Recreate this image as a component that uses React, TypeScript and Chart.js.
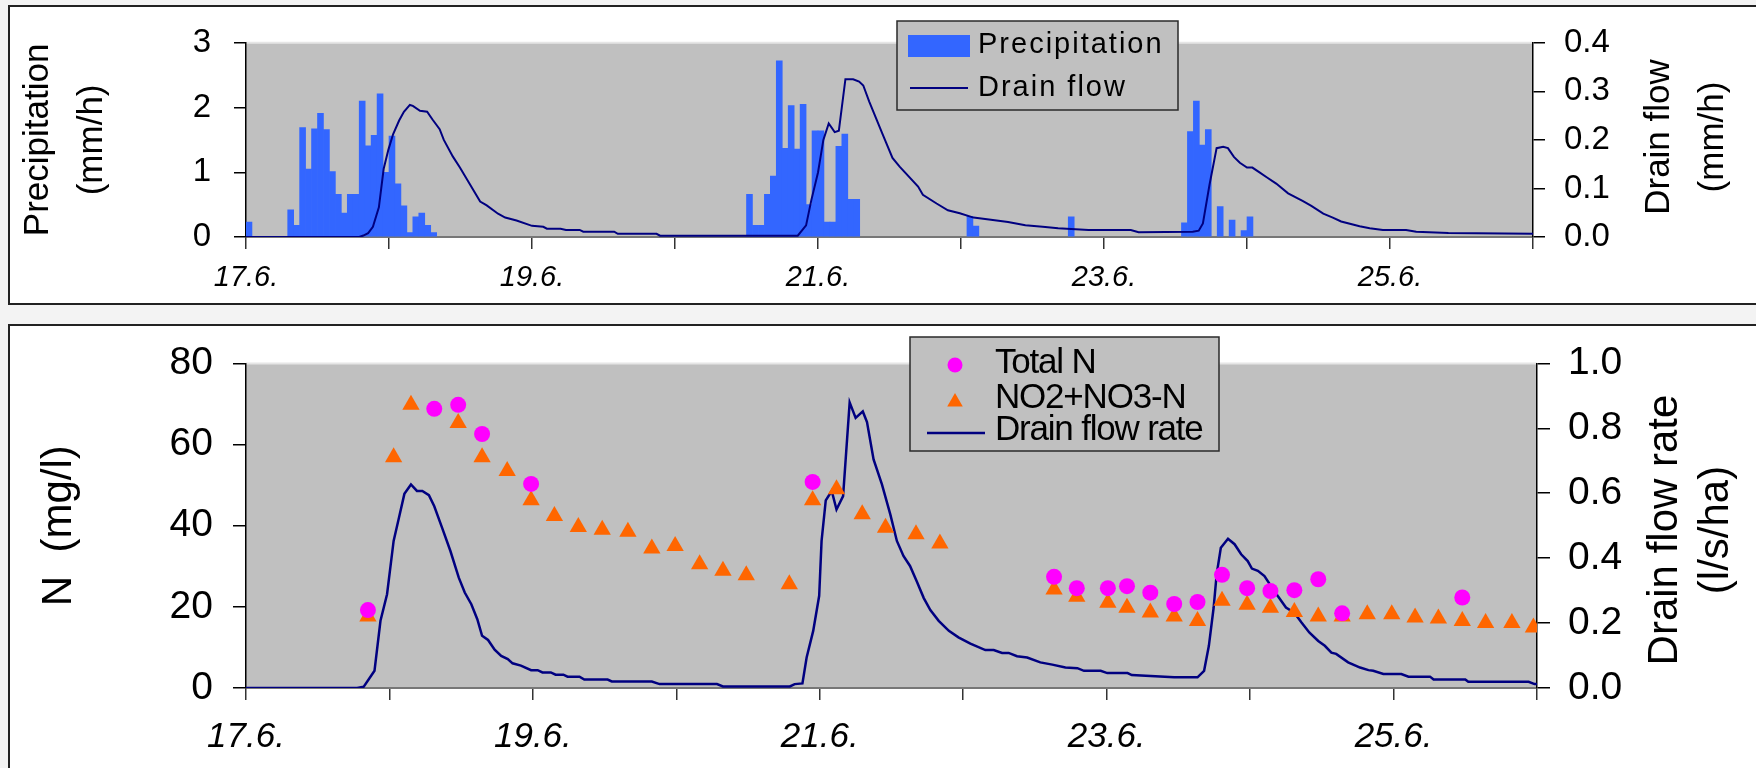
import React, { useEffect, useRef } from 'react';
import { Chart, registerables } from 'chart.js';

Chart.register(...registerables);

const FONT = '"Liberation Sans", Arial, Helvetica, sans-serif';

// x axis: hours since 17.6. 00:00
const xTickHours = [0, 24, 48, 72, 96, 120, 144, 168, 192, 216];
const xTickLabels = ['17.6.', '', '19.6.', '', '21.6.', '', '23.6.', '', '25.6.', ''];

const topLeftTicks = [0, 1, 2, 3];
const topRightTicks = [0, 0.1, 0.2, 0.3, 0.4];
const bottomLeftTicks = [0, 20, 40, 60, 80];
const bottomRightTicks = [0, 0.2, 0.4, 0.6, 0.8, 1.0];

// Precipitation (mm/h), hourly bars: start hour and value
const precipHours = [
  0, 7, 8, 9, 10, 11, 12, 13, 14, 15, 16, 17, 18, 19, 20, 21, 22, 23, 24, 25, 26, 27, 28, 29, 30, 31,
  84, 85, 86, 87, 88, 89, 90, 91, 92, 93, 94, 95, 96, 97, 98, 99, 100, 101, 102,
  121, 122, 138,
  157, 158, 159, 160, 161, 163, 165, 167, 168,
];
const precipValues = [
  0.23, 0.42, 0.18, 1.69, 1.05, 1.67, 1.91, 1.66, 1.01, 0.66, 0.37, 0.66, 0.66, 2.10, 1.41, 1.57, 2.21, 1.0, 1.56, 0.82, 0.48, 0.07, 0.31, 0.37, 0.18, 0.07,
  0.66, 0.18, 0.18, 0.66, 0.94, 2.72, 1.37, 2.03, 1.36, 2.05, 0.5, 1.64, 1.64, 0.23, 0.23, 1.40, 1.59, 0.58, 0.58,
  0.32, 0.17, 0.31,
  0.22, 1.63, 2.10, 1.42, 1.66, 0.47, 0.26, 0.10, 0.31,
];

// Drain flow (mm/h), top panel
const flowTopHours = [
  0, 19, 19.7, 20.5, 21.3, 22.3, 23.1, 23.9, 24.7, 25.7, 26.5, 27.5, 28.0, 29.2, 30.4, 31.3, 32.5, 33.2, 34.7, 35.9,
  37.5, 39.3, 40.4, 42.3, 43.5, 45.4, 48, 49.9, 50.5, 52.8, 53.7, 56, 56.6, 61.8, 62.4, 68.9, 69.5, 92.6,
  94, 94.9, 96, 96.9, 97.8, 98.8, 99.5, 100.6, 101.9, 102.9, 103.6, 104.6, 106.8, 108.5, 109.7, 112.8, 113.6,
  115.9, 117.8, 119.8, 122.1, 124.7, 127.9, 130.8, 133.7, 136.3, 141.4, 148.5, 149.8, 158.9,
  159.9, 160.6, 161.7, 162.9, 164, 164.8, 165.8, 166.8, 168, 168.9, 170.1, 171.3, 172.9, 174.9, 177.4, 178.8,
  180.8, 182.4, 183.8, 186.9, 188.6, 190.8, 194.7, 196.4, 201.8, 216,
];
const flowTopValues = [
  0, 0, 0.003, 0.008, 0.021, 0.061, 0.14, 0.18, 0.212, 0.24, 0.258, 0.272, 0.27, 0.26, 0.258, 0.242, 0.222, 0.2, 0.166, 0.143,
  0.11, 0.073, 0.065, 0.048, 0.04, 0.034, 0.023, 0.021, 0.017, 0.017, 0.0145, 0.0145, 0.011, 0.011, 0.0066, 0.0066, 0.0026, 0.0026,
  0.024, 0.077, 0.133, 0.2, 0.234, 0.216, 0.219, 0.325, 0.325, 0.32, 0.312, 0.279, 0.213, 0.163, 0.145, 0.104, 0.087,
  0.069, 0.055, 0.049, 0.04, 0.036, 0.031, 0.024, 0.021, 0.018, 0.0145, 0.0145, 0.0099, 0.0106,
  0.013, 0.028, 0.107, 0.183, 0.186, 0.183, 0.165, 0.153, 0.143, 0.143, 0.133, 0.123, 0.11, 0.09, 0.074, 0.064,
  0.048, 0.04, 0.032, 0.022, 0.018, 0.0145, 0.0145, 0.0106, 0.008, 0.0066,
];

// Drain flow rate (l/s/ha), bottom panel
const flowRateHours = [
  0, 18.6, 19.7, 21.5, 22.5, 23.6, 24.7, 25.6, 26.5, 27.6, 28.6, 29.5, 30.6, 31.5, 32.8, 34.2, 35.6, 36.6, 37.7, 38.7,
  39.5, 40.5, 41.6, 42.7, 43.8, 44.6, 46, 47.7, 48.8, 49.6, 51, 51.8, 53.1, 53.8, 55.8, 56.6, 60.5, 61.2, 67.9, 69.2,
  78.8, 79.8, 91, 91.8, 93.1, 93.8, 94.9, 95.9, 96.3, 97, 98, 98.8, 99.9, 101, 102, 103.2, 103.9, 105, 106.4, 107.8,
  108.9, 110, 111.1, 112.2, 113.4, 114.5, 115.9, 117.6, 119.2, 121.2, 123.7, 125.1, 126.5, 127.6, 129, 130.7, 132.9,
  134.9, 137.1, 139.1, 140.2, 143, 144.1, 147.5, 148.2, 155.3, 159.2, 160.3, 161.1, 161.9, 162.4, 163.1, 164.3, 165.4,
  166.5, 167.6, 168.3, 169.3, 170.4, 171.5, 172.6, 174, 175.4, 176.6, 177.9, 179.4, 180.5, 181.6, 182.4, 184.4, 186.4,
  187.8, 188.6, 190.3, 193.3, 194.5, 198.1, 198.7, 204, 204.5, 214.6, 215.6, 216,
];
const flowRateValues = [
  0, 0, 0.004, 0.053, 0.207, 0.289, 0.453, 0.525, 0.598, 0.627, 0.607, 0.607, 0.594, 0.56, 0.494, 0.422, 0.34, 0.294, 0.258, 0.212,
  0.161, 0.148, 0.118, 0.099, 0.089, 0.076, 0.069, 0.055, 0.055, 0.048, 0.048, 0.041, 0.041, 0.035, 0.035, 0.026, 0.026, 0.02, 0.02, 0.012,
  0.012, 0.005, 0.005, 0.012, 0.014, 0.094, 0.176, 0.284, 0.453, 0.578, 0.607, 0.55, 0.591, 0.88, 0.832, 0.852, 0.819, 0.704, 0.627, 0.535,
  0.453, 0.407, 0.376, 0.33, 0.277, 0.24, 0.207, 0.176, 0.156, 0.137, 0.117, 0.117, 0.108, 0.108, 0.098, 0.094, 0.079,
  0.072, 0.063, 0.061, 0.053, 0.053, 0.046, 0.046, 0.04, 0.033, 0.033, 0.053, 0.13, 0.248, 0.35, 0.432, 0.46, 0.443,
  0.412, 0.391, 0.368, 0.361, 0.345, 0.314, 0.284, 0.248, 0.232, 0.202, 0.171, 0.145, 0.13, 0.109, 0.105, 0.079, 0.063,
  0.055, 0.053, 0.043, 0.043, 0.035, 0.035, 0.026, 0.026, 0.019, 0.019, 0.012, 0.012,
];

// Total N (mg/l)
const totalNHours = [20.4, 31.5, 35.5, 39.5, 47.7, 94.8, 135.2, 139.0, 144.2, 147.4, 151.3, 155.3, 159.2, 163.3, 167.5, 171.4, 175.4, 179.4, 183.4, 203.5];
const totalNValues = [19.2, 68.8, 69.8, 62.6, 50.3, 50.8, 27.4, 24.6, 24.6, 25.1, 23.5, 20.7, 21.2, 27.9, 24.6, 23.9, 24.1, 26.8, 18.4, 22.3];

// NO2+NO3-N (mg/l)
const no3Hours = [
  20.4, 24.7, 27.6, 35.5, 39.5, 43.7, 47.7, 51.6, 55.6, 59.6, 63.9, 67.9, 71.8, 75.9, 79.8, 83.7, 90.9,
  94.8, 98.8, 103.1, 107.0, 112.1, 116.1,
  135.2, 139.0, 144.2, 147.4, 151.3, 155.3, 159.2, 163.3, 167.5, 171.4, 175.4, 179.4, 183.4, 187.6, 191.7, 195.6, 199.5, 203.5, 207.4, 211.8, 215.4,
];
const no3Values = [
  17.6, 56.9, 69.8, 65.3, 56.9, 53.5, 46.3, 42.4, 39.7, 39.0, 38.5, 34.4, 35.0, 30.5, 28.9, 27.8, 25.6,
  46.3, 49.0, 42.8, 39.5, 37.9, 35.6,
  24.3, 22.5, 21.0, 19.8, 18.6, 17.6, 16.5, 21.5, 20.5, 19.8, 18.7, 17.6, 17.6, 18.2, 18.2, 17.4, 17.1, 16.5, 16.0, 16.0, 14.9,
];

const pts = (xs: number[], ys: number[]) => xs.map((x, i) => ({ x, y: ys[i] }));

const decorPlugin = {
  id: 'decor',
  beforeDraw(chart: any, _a: any, opts: any) {
    const { ctx, chartArea: ca } = chart;
    ctx.save();
    ctx.fillStyle = opts.plotBg;
    ctx.fillRect(ca.left, ca.top, ca.right - ca.left, ca.bottom - ca.top);
    ctx.strokeStyle = '#e6e6e6';
    ctx.lineWidth = 2;
    ctx.beginPath();
    ctx.moveTo(ca.left, ca.top);
    ctx.lineTo(ca.right, ca.top);
    ctx.stroke();
    ctx.restore();
  },
  afterDatasetsDraw(chart: any, _a: any, opts: any) {
    (chart.ctx as any).letterSpacing = opts.xLetterSpacing || '0px';
  },
  afterDraw(chart: any, _a: any, opts: any) {
    const ctx = chart.ctx;
    (ctx as any).letterSpacing = '0px';
    // right axis title (reads bottom-to-top)
    const rt = opts.rightTitle;
    ctx.save();
    ctx.fillStyle = '#000';
    ctx.font = `${rt.size}px ${FONT}`;
    ctx.textAlign = 'center';
    ctx.textBaseline = 'middle';
    rt.lines.forEach((line: string, i: number) => {
      ctx.save();
      ctx.translate(rt.xs[i], rt.y);
      ctx.rotate(-Math.PI / 2);
      ctx.fillText(line, 0, 0);
      ctx.restore();
    });
    ctx.restore();
    // legend
    const lg = opts.legend;
    ctx.save();
    ctx.fillStyle = '#c0c0c0';
    ctx.fillRect(lg.x, lg.y, lg.w, lg.h);
    ctx.strokeStyle = '#2a2a2a';
    ctx.lineWidth = 1.5;
    ctx.strokeRect(lg.x, lg.y, lg.w, lg.h);
    lg.items.forEach((it: any) => {
      const ds = chart.data.datasets[it.index];
      if (it.kind === 'rect') {
        ctx.fillStyle = ds.backgroundColor;
        ctx.fillRect(it.mx, it.my, it.mw, it.mh);
      } else if (it.kind === 'line') {
        ctx.strokeStyle = ds.borderColor;
        ctx.lineWidth = ds.borderWidth;
        ctx.beginPath();
        ctx.moveTo(it.mx, it.my);
        ctx.lineTo(it.mx + it.mw, it.my);
        ctx.stroke();
      } else if (it.kind === 'circle') {
        ctx.fillStyle = ds.backgroundColor;
        ctx.beginPath();
        ctx.arc(it.mx, it.my, it.r, 0, Math.PI * 2);
        ctx.fill();
      } else if (it.kind === 'triangle') {
        ctx.fillStyle = ds.backgroundColor;
        const r = it.r;
        ctx.beginPath();
        for (let k = 0; k < 3; k++) {
          const a = (k * 2 * Math.PI) / 3;
          const px = it.mx + Math.sin(a) * r;
          const py = it.my - Math.cos(a) * r;
          if (k === 0) ctx.moveTo(px, py);
          else ctx.lineTo(px, py);
        }
        ctx.closePath();
        ctx.fill();
      }
      ctx.fillStyle = '#000';
      ctx.font = `${lg.size}px ${FONT}`;
      (ctx as any).letterSpacing = lg.spacing;
      ctx.textAlign = 'left';
      ctx.textBaseline = 'middle';
      ctx.fillText(ds.label, it.tx, it.ty);
      (ctx as any).letterSpacing = '0px';
    });
    ctx.restore();
  },
};

const yAxisCommon = (tickLength: number) => ({
  grid: { drawOnChartArea: false, drawTicks: true, tickLength, color: '#000', lineWidth: 1.5 },
  border: { display: true, color: '#000', width: 1.5 },
});

function xAxis(height: number, font: any, padding: number) {
  return {
    type: 'linear',
    min: 0,
    max: 216,
    offset: false,
    z: 1,
    afterFit: (s: any) => { s.height = height; },
    afterBuildTicks: (s: any) => { s.ticks = xTickHours.map((v) => ({ value: v })); },
    ticks: {
      autoSkip: false,
      maxRotation: 0,
      color: '#000',
      font,
      padding,
      callback: (_v: any, i: number) => xTickLabels[i],
    },
    grid: { drawOnChartArea: false, drawTicks: true, tickLength: 12, color: '#333', lineWidth: 1.5, offset: false },
    border: { display: true, color: '#777', width: 2 },
  };
}

export default function App() {
  const topRef = useRef<HTMLCanvasElement>(null);
  const botRef = useRef<HTMLCanvasElement>(null);

  useEffect(() => {
    const top = new Chart(topRef.current as any, {
      type: 'bar',
      data: {
        datasets: [
          {
            type: 'bar',
            label: 'Precipitation',
            data: pts(precipHours.map((h) => h + 0.5), precipValues),
            backgroundColor: '#3366ff',
            borderWidth: 0,
            barPercentage: 1,
            categoryPercentage: 1,
            yAxisID: 'y',
            order: 2,
          },
          {
            type: 'line',
            label: 'Drain flow',
            data: pts(flowTopHours, flowTopValues),
            borderColor: '#000080',
            backgroundColor: '#000080',
            borderWidth: 2,
            pointRadius: 0,
            tension: 0,
            yAxisID: 'y1',
            order: 1,
          },
        ],
      } as any,
      options: {
        responsive: false,
        animation: false,
        events: [],
        layout: { padding: { top: 35, left: 0, right: 0, bottom: 0 } },
        plugins: {
          legend: { display: false },
          tooltip: { enabled: false },
          decor: {
            plotBg: '#c0c0c0',
            xLetterSpacing: '1.6px',
            rightTitle: { lines: ['Drain flow', '(mm/h)'], xs: [1659, 1713], y: 137, size: 35 },
            legend: {
              x: 897, y: 21, w: 281, h: 89, size: 29, spacing: '2px',
              items: [
                { index: 0, kind: 'rect', mx: 908, my: 35, mw: 62, mh: 22, tx: 978, ty: 45 },
                { index: 1, kind: 'line', mx: 910, my: 88, mw: 58, tx: 978, ty: 88 },
              ],
            },
          },
        } as any,
        scales: {
          x: xAxis(73, { family: FONT, size: 29, style: 'italic' }, 12) as any,
          y: {
            position: 'left',
            min: 0,
            max: 3,
            afterFit: (s: any) => { s.width = 246; },
            afterBuildTicks: (s: any) => { s.ticks = topLeftTicks.map((v) => ({ value: v })); },
            ticks: { color: '#000', font: { family: FONT, size: 33 }, padding: 23, callback: (v: any) => String(v) },
            title: {
              display: true,
              text: ['Precipitation', '(mm/h)'],
              color: '#000',
              font: { family: FONT, size: 35, lineHeight: 1.54 },
              padding: { top: 11, bottom: 0 },
            },
            ...yAxisCommon(12),
          } as any,
          y1: {
            position: 'right',
            min: 0,
            max: 0.4,
            afterFit: (s: any) => { s.width = 223; },
            afterBuildTicks: (s: any) => { s.ticks = topRightTicks.map((v) => ({ value: v })); },
            ticks: { color: '#000', font: { family: FONT, size: 33 }, padding: 19, callback: (v: any) => Number(v).toFixed(1) },
            ...yAxisCommon(12),
          } as any,
        },
      },
      plugins: [decorPlugin],
    });

    const bot = new Chart(botRef.current as any, {
      type: 'line',
      data: {
        datasets: [
          {
            type: 'line',
            label: 'Total N',
            data: pts(totalNHours, totalNValues),
            showLine: false,
            pointStyle: 'circle',
            pointRadius: 8,
            pointBorderWidth: 0,
            backgroundColor: '#ff00ff',
            borderColor: '#ff00ff',
            yAxisID: 'y',
            order: 0,
          },
          {
            type: 'line',
            label: 'NO2+NO3-N',
            data: pts(no3Hours, no3Values),
            showLine: false,
            pointStyle: 'triangle',
            pointRadius: 10,
            pointBorderWidth: 0,
            backgroundColor: '#ff6600',
            borderColor: '#ff6600',
            yAxisID: 'y',
            order: 1,
          },
          {
            type: 'line',
            label: 'Drain flow rate',
            data: pts(flowRateHours, flowRateValues),
            borderColor: '#000080',
            backgroundColor: '#000080',
            borderWidth: 2.5,
            pointRadius: 0,
            tension: 0,
            yAxisID: 'y1',
            order: 2,
          },
        ],
      } as any,
      options: {
        responsive: false,
        animation: false,
        events: [],
        layout: { padding: { top: 42, left: 0, right: 0, bottom: 0 } },
        plugins: {
          legend: { display: false },
          tooltip: { enabled: false },
          decor: {
            plotBg: '#c0c0c0',
            xLetterSpacing: '-1.2px',
            rightTitle: { lines: ['Drain flow rate', '(l/s/ha)'], xs: [1665, 1716], y: 210, size: 42 },
            legend: {
              x: 910, y: 17, w: 309, h: 114, size: 35, spacing: '-1.2px',
              items: [
                { index: 0, kind: 'circle', mx: 955, my: 45, r: 7.5, tx: 995, ty: 43 },
                { index: 1, kind: 'triangle', mx: 955, my: 82, r: 9, tx: 995, ty: 78 },
                { index: 2, kind: 'line', mx: 927, my: 113, mw: 58, tx: 995, ty: 110 },
              ],
            },
          },
        } as any,
        scales: {
          x: xAxis(80, { family: FONT, size: 35, style: 'italic' }, 16) as any,
          y: {
            position: 'left',
            min: 0,
            max: 80,
            afterFit: (s: any) => { s.width = 246; },
            afterBuildTicks: (s: any) => { s.ticks = bottomLeftTicks.map((v) => ({ value: v })); },
            ticks: { color: '#000', font: { family: FONT, size: 39 }, padding: 20, callback: (v: any) => String(v) },
            title: {
              display: true,
              text: 'N  (mg/l)',
              color: '#000',
              font: { family: FONT, size: 42, lineHeight: 1.2 },
              padding: { top: 34, bottom: 0 },
            },
            ...yAxisCommon(13),
          } as any,
          y1: {
            position: 'right',
            min: 0,
            max: 1,
            afterFit: (s: any) => { s.width = 219; },
            afterBuildTicks: (s: any) => { s.ticks = bottomRightTicks.map((v) => ({ value: v })); },
            ticks: { color: '#000', font: { family: FONT, size: 39 }, padding: 18, callback: (v: any) => Number(v).toFixed(1) },
            ...yAxisCommon(13),
          } as any,
        },
      },
      plugins: [decorPlugin],
    });

    return () => {
      top.destroy();
      bot.destroy();
    };
  }, []);

  return (
    <div style={{ position: 'absolute', left: 0, top: 0, width: 1756, height: 768, background: '#f3f3f3', overflow: 'hidden' }}>
      <div style={{ position: 'absolute', left: 8, top: 5, width: 1800, height: 296, border: '2px solid #222', background: '#fff' }} />
      <div style={{ position: 'absolute', left: 8, top: 324, width: 1800, height: 500, border: '2px solid #222', background: '#fff' }} />
      <canvas ref={topRef} width={1756} height={310} style={{ position: 'absolute', left: 0, top: 0, width: 1756, height: 310 }} />
      <canvas ref={botRef} width={1756} height={448} style={{ position: 'absolute', left: 0, top: 320, width: 1756, height: 448 }} />
    </div>
  );
}
